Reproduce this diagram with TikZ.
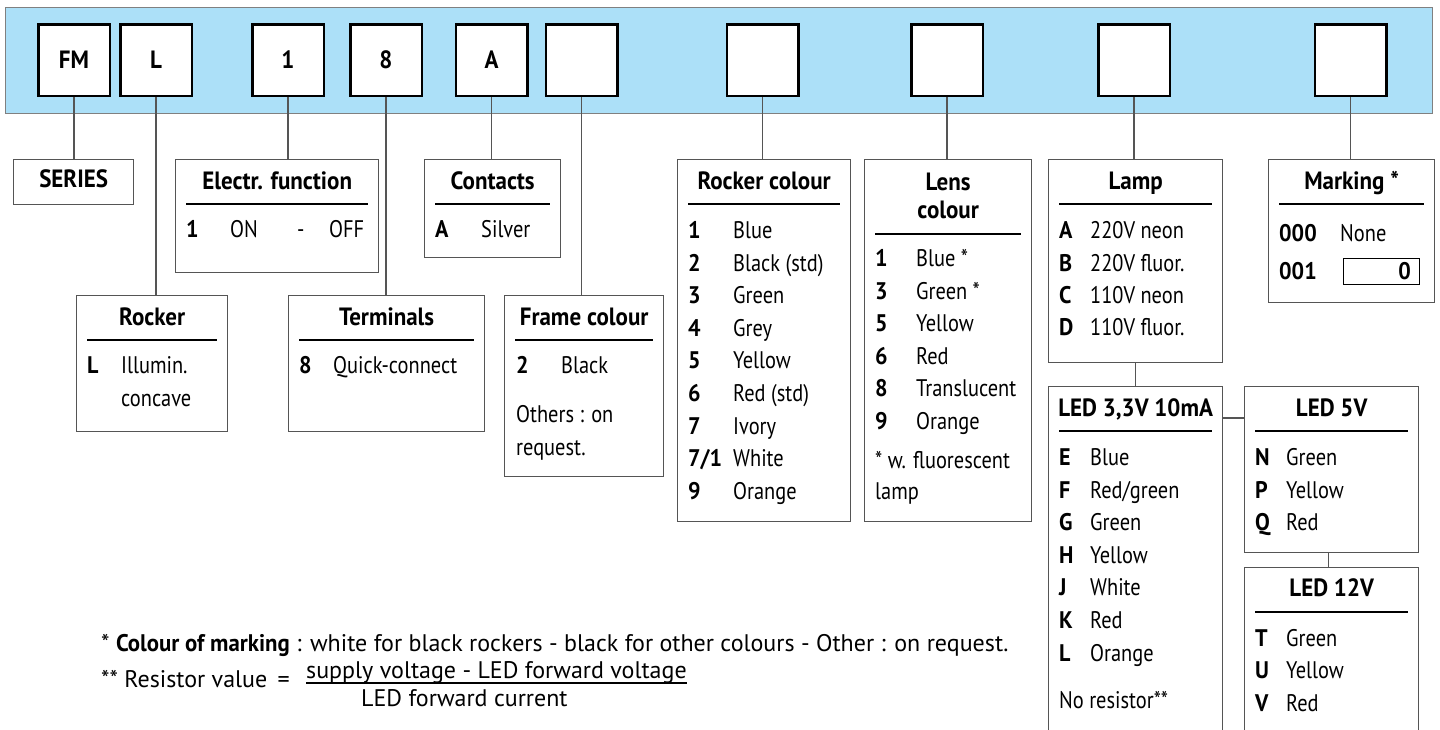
\documentclass[tikz,border=0pt]{standalone}
\usepackage{fontspec}
\setmainfont{PT Sans}[FakeStretch=0.85,BoldFeatures={FakeStretch=0.92}]
\newfontfamily\notefont{PT Sans}[BoldFeatures={FakeStretch=0.95}]
\usetikzlibrary{positioning}
\definecolor{bandblue}{RGB}{172,224,248}
\definecolor{boxgray}{RGB}{85,85,85}
\newcommand{\kk}[2]{\makebox[#1][l]{\bfseries #2}}

\begin{document}
\begin{tikzpicture}[x=1pt, y=-1pt,
		band/.style={draw=gray, fill=bandblue, line width=1pt, anchor=north west, inner sep=0pt},
		codebox/.style={draw=black, fill=white, line width=2.5pt, minimum width=71.5pt, minimum height=71.5pt,
			font=\fontsize{25}{28}\selectfont\bfseries},
		infobox/.style={draw=boxgray, line width=1.3pt, anchor=north west, inner sep=0pt},
		boxtitle/.style={anchor=base, inner sep=0pt, font=\fontsize{25}{28}\selectfont\bfseries},
		item/.style={anchor=base west, inner sep=0pt, font=\fontsize{24}{28}\selectfont},
		note/.style={anchor=base west, inner sep=0pt, font={\notefont\fontsize{24}{28}\selectfont}},
		rule/.style={draw=black, line width=1.2pt},
		link/.style={draw=boxgray, line width=1.3pt}]
		
		\useasboundingbox (0,0) rectangle (1440,729);
		\clip (0,0) rectangle (1440,729);
		
		%code band
		\node[band, minimum width=1427pt, minimum height=106pt] (band) at (5,7) {};
		\node[codebox] (cfm) at (74,60) {FM};
		\node[codebox] (cl) at (156,60) {L};
		\node[codebox] (cfunc) at (288,60) {1};
		\node[codebox] (cterm) at (386,60) {8};
		\node[codebox] (ccont) at (491.5,60) {A};
		\node[codebox] (cframe) at (581.5,60) {};
		\node[codebox] (crcol) at (762.5,60) {};
		\node[codebox] (clens) at (947,60) {};
		\node[codebox] (clamp) at (1134,60) {};
		\node[codebox] (cmark) at (1350.5,60) {};
		
		%boxes
		\node[infobox, minimum width=120pt, minimum height=45pt] (series) at (13,159) {};
		\node[infobox, minimum width=203pt, minimum height=113pt] (efunc) at (175,159) {};
		\node[infobox, minimum width=136pt, minimum height=98pt] (contacts) at (424,159) {};
		\node[infobox, minimum width=151pt, minimum height=136pt] (rocker) at (76,295) {};
		\node[infobox, minimum width=196pt, minimum height=136pt] (terminals) at (288,295) {};
		\node[infobox, minimum width=159pt, minimum height=181pt] (frame) at (504,295) {};
		\node[infobox, minimum width=173pt, minimum height=362pt] (rcol) at (677,159) {};
		\node[infobox, minimum width=167pt, minimum height=362pt] (lens) at (864,159) {};
		\node[infobox, minimum width=174pt, minimum height=203pt] (lamp) at (1048,159) {};
		\node[infobox, minimum width=166pt, minimum height=143pt] (marking) at (1268,159) {};
		\node[infobox, minimum width=174pt, minimum height=380pt] (led33) at (1048,386) {};
		\node[infobox, minimum width=174pt, minimum height=166pt] (led5) at (1244,386) {};
		\node[infobox, minimum width=174pt, minimum height=200pt] (led12) at (1244,567) {};
		
		%links
		\draw[link] (cfm.south) -- (cfm.south |- series.north);
		\draw[link] (cl.south) -- (cl.south |- rocker.north);
		\draw[link] (cfunc.south) -- (cfunc.south |- efunc.north);
		\draw[link] (cterm.south) -- (cterm.south |- terminals.north);
		\draw[link] (ccont.south) -- (ccont.south |- contacts.north);
		\draw[link] (cframe.south) -- (cframe.south |- frame.north);
		\draw[link] (crcol.south) -- (crcol.south |- rcol.north);
		\draw[link] (clens.south) -- (clens.south |- lens.north);
		\draw[link] (clamp.south) -- (clamp.south |- lamp.north);
		\draw[link] (cmark.south) -- (cmark.south |- marking.north);
		\draw[link] (lamp.south) -- (led33.north);
		\draw[link] ([yshift=-32pt]led33.north east) -- ([yshift=-32pt]led5.north west);
		\draw[link] ([xshift=-3pt]led5.south) -- ([xshift=-3pt]led12.north);
		
		%titles
		\node[boxtitle] (t-series) at ([yshift=-28pt]series.north) {SERIES};
		\node[boxtitle] (t-efunc) at ([yshift=-30pt]efunc.north) {Electr. function};
		\node[boxtitle] (t-contacts) at ([yshift=-30pt]contacts.north) {Contacts};
		\node[boxtitle] (t-rocker) at ([yshift=-30pt]rocker.north) {Rocker};
		\node[boxtitle] (t-terminals) at ([yshift=-30pt]terminals.north) {Terminals};
		\node[boxtitle] (t-frame) at ([yshift=-30pt]frame.north) {Frame colour};
		\node[boxtitle] (t-rcol) at ([yshift=-30pt]rcol.north) {Rocker colour};
		\node[boxtitle, align=center] (t-lens) at ([yshift=-59pt]lens.north) {Lens\\colour};
		\node[boxtitle] (t-lamp) at ([yshift=-30pt]lamp.north) {Lamp};
		\node[boxtitle] (t-marking) at ([yshift=-30pt]marking.north) {Marking *};
		\node[boxtitle] (t-led33) at ([yshift=-30pt]led33.north) {LED 3,3V 10mA};
		\node[boxtitle] (t-led5) at ([yshift=-30pt]led5.north) {LED 5V};
		\node[boxtitle] (t-led12) at ([yshift=-29pt]led12.north) {LED 12V};
		
		%rules
		\draw[rule] ([xshift=11pt,yshift=-45pt]efunc.north west) -- ([xshift=-11pt,yshift=-45pt]efunc.north east);
		\draw[rule] ([xshift=11pt,yshift=-45pt]contacts.north west) -- ([xshift=-11pt,yshift=-45pt]contacts.north east);
		\draw[rule] ([xshift=11pt,yshift=-45pt]rocker.north west) -- ([xshift=-11pt,yshift=-45pt]rocker.north east);
		\draw[rule] ([xshift=11pt,yshift=-45pt]terminals.north west) -- ([xshift=-11pt,yshift=-45pt]terminals.north east);
		\draw[rule] ([xshift=11pt,yshift=-45pt]frame.north west) -- ([xshift=-11pt,yshift=-45pt]frame.north east);
		\draw[rule] ([xshift=11pt,yshift=-45pt]rcol.north west) -- ([xshift=-11pt,yshift=-45pt]rcol.north east);
		\draw[rule] ([xshift=11pt,yshift=-75pt]lens.north west) -- ([xshift=-11pt,yshift=-75pt]lens.north east);
		\draw[rule] ([xshift=11pt,yshift=-45pt]lamp.north west) -- ([xshift=-11pt,yshift=-45pt]lamp.north east);
		\draw[rule] ([xshift=11pt,yshift=-45pt]marking.north west) -- ([xshift=-11pt,yshift=-45pt]marking.north east);
		\draw[rule] ([xshift=11pt,yshift=-45pt]led33.north west) -- ([xshift=-11pt,yshift=-45pt]led33.north east);
		\draw[rule] ([xshift=11pt,yshift=-45pt]led5.north west) -- ([xshift=-11pt,yshift=-45pt]led5.north east);
		\draw[rule] ([xshift=11pt,yshift=-45pt]led12.north west) -- ([xshift=-11pt,yshift=-45pt]led12.north east);
		
		%electr. function, contacts
		\node[item] (ef1) at (186,237) {\kk{44pt}{1}\makebox[67pt][l]{ON}\makebox[32pt][l]{-}OFF};
		\node[item] (ca) at (435,237) {\kk{46pt}{A}Silver};
		
		%rocker, terminals, frame
		\node[item] (rl) at (87,373) {\kk{34pt}{L}Illumin.};
		\node[item] (rl2) at (121,406) {concave};
		\node[item] (t8) at (299,373) {\kk{34pt}{8}Quick-connect};
		\node[item] (f2) at (516,373) {\kk{45pt}{2}Black};
		\node[item] (fo1) at (516,422) {Others : on};
		\node[item] (fo2) at (516,455) {request.};
		
		%rocker colour
		\node[item] (rc1) at (688,238) {\kk{45pt}{1}Blue};
		\node[item] (rc2) at (688,271) {\kk{45pt}{2}Black (std)};
		\node[item] (rc3) at (688,303) {\kk{45pt}{3}Green};
		\node[item] (rc4) at (688,336) {\kk{45pt}{4}Grey};
		\node[item] (rc5) at (688,368) {\kk{45pt}{5}Yellow};
		\node[item] (rc6) at (688,401) {\kk{45pt}{6}Red (std)};
		\node[item] (rc7) at (688,434) {\kk{45pt}{7}Ivory};
		\node[item] (rc71) at (688,466) {\kk{45pt}{7/1}White};
		\node[item] (rc9) at (688,499) {\kk{45pt}{9}Orange};
		
		%lens colour
		\node[item] (lc1) at (875,266) {\kk{41pt}{1}Blue *};
		\node[item] (lc3) at (875,299) {\kk{41pt}{3}Green *};
		\node[item] (lc5) at (875,331) {\kk{41pt}{5}Yellow};
		\node[item] (lc6) at (875,364) {\kk{41pt}{6}Red};
		\node[item] (lc8) at (875,396) {\kk{41pt}{8}Translucent};
		\node[item] (lc9) at (875,429) {\kk{41pt}{9}Orange};
		\node[item] (lcn1) at (875,468) {* w. fluorescent};
		\node[item] (lcn2) at (875,499) {lamp};
		
		%lamp
		\node[item] (la) at (1059,238) {\kk{31pt}{A}220V neon};
		\node[item] (lb) at (1059,271) {\kk{31pt}{B}220V fluor.};
		\node[item] (lcc) at (1059,303) {\kk{31pt}{C}110V neon};
		\node[item] (ld) at (1059,335) {\kk{31pt}{D}110V fluor.};
		
		%marking
		\node[item] (m0) at (1279,241) {\kk{61pt}{000}None};
		\node[item] (m1) at (1279,279) {\kk{61pt}{001}};
		\node[draw=black, line width=1pt, minimum width=76pt, minimum height=26pt, anchor=north west,
			inner sep=0pt] (mbox) at (1343,258) {};
		\node[item, anchor=base east] (mzero) at (1411,279) {\bfseries 0};
		
		%led 3,3V
		\node[item] (le) at (1059,465) {\kk{31pt}{E}Blue};
		\node[item] (lf) at (1059,498) {\kk{31pt}{F}Red/green};
		\node[item] (lg) at (1059,530) {\kk{31pt}{G}Green};
		\node[item] (lh) at (1059,563) {\kk{31pt}{H}Yellow};
		\node[item] (lj) at (1059,595) {\kk{31pt}{J}White};
		\node[item] (lk) at (1059,628) {\kk{31pt}{K}Red};
		\node[item] (ll) at (1059,661) {\kk{31pt}{L}Orange};
		\node[item] (lnr) at (1059,708) {No resistor**};
		
		%led 5V, 12V
		\node[item] (ln) at (1255,465) {\kk{31pt}{N}Green};
		\node[item] (lp) at (1255,498) {\kk{31pt}{P}Yellow};
		\node[item] (lq) at (1255,530) {\kk{31pt}{Q}Red};
		\node[item] (lt) at (1255,646) {\kk{31pt}{T}Green};
		\node[item] (lu) at (1255,678) {\kk{31pt}{U}Yellow};
		\node[item] (lv) at (1255,711) {\kk{31pt}{V}Red};
		
		%notes
		\node[note] (note1) at (101,651) {* \textbf{Colour of marking} : white for black rockers - black for other colours - Other : on request.};
		\node[note] (note2) at (101,687) {** Resistor value \,=};
		\node[note] (num) at (306,678) {supply voltage - LED forward voltage};
		\draw[rule] ([yshift=-5pt]num.base west) -- ([yshift=-5pt]num.base east);
		\node[note] (den) at (361,706) {LED forward current};
	\end{tikzpicture}
\end{document}
